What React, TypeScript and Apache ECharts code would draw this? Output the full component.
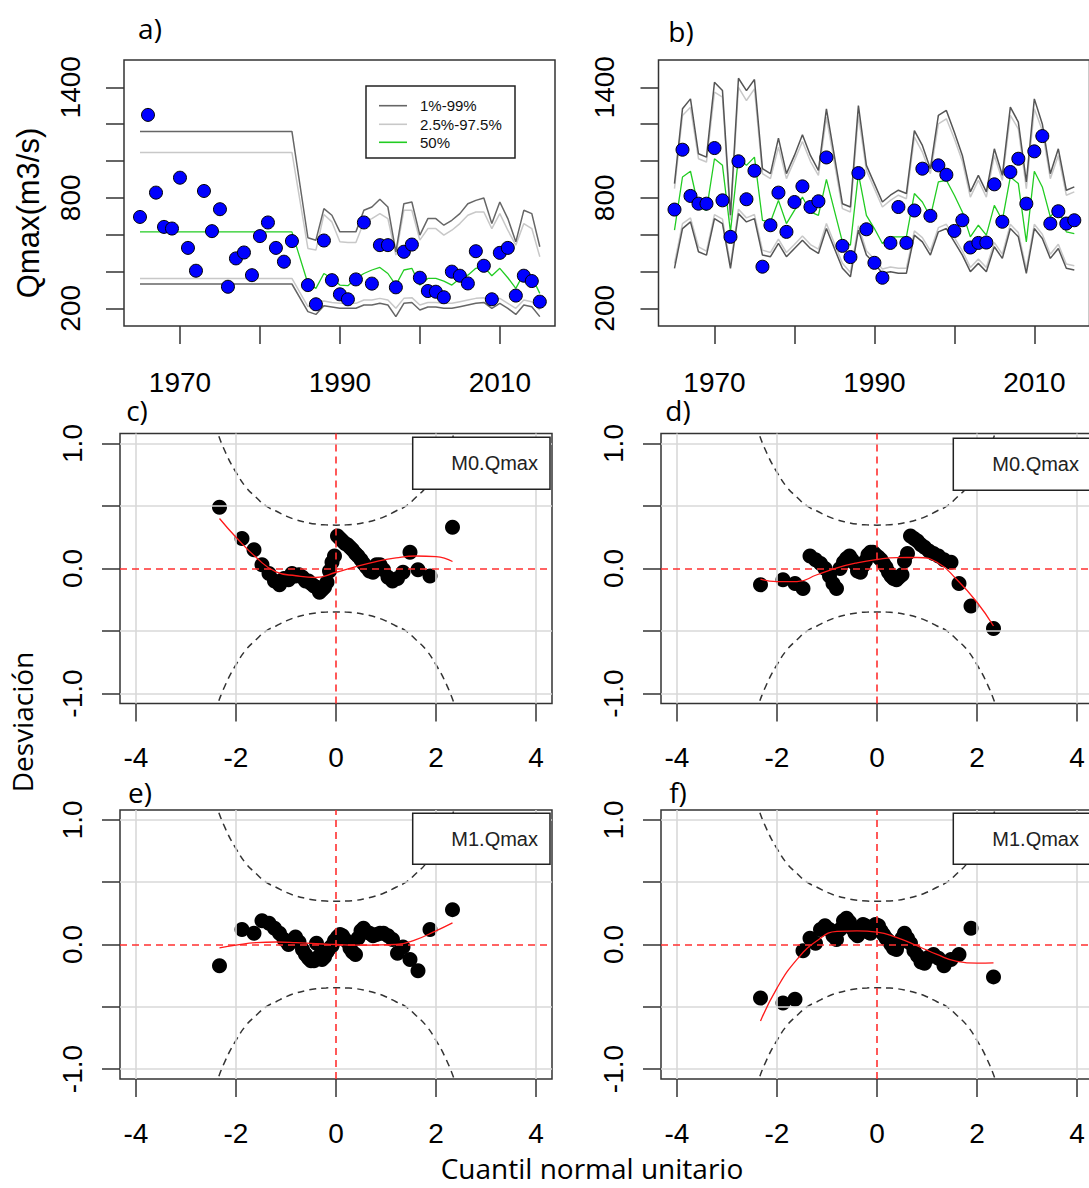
import React, { useEffect, useRef } from "react";
import * as echarts from "echarts";

// ---------- Data: panels a) and b) ----------
const years = [
  1965, 1966, 1967, 1968, 1969, 1970, 1971, 1972, 1973, 1974, 1975, 1976, 1977, 1978, 1979, 1980, 1981, 1982, 1983, 1984,
  1986, 1987, 1988, 1989, 1990, 1991, 1992, 1993, 1994, 1995, 1996, 1997, 1998, 1999, 2000, 2001, 2002, 2003, 2004, 2005,
  2006, 2007, 2008, 2009, 2010, 2011, 2012, 2013, 2014, 2015,
];
const yearTicks = [1970, 1980, 1990, 2000, 2010];
const yearLabels = [1970, 1990, 2010];
const qTicks = [200, 400, 600, 800, 1000, 1200, 1400];
const qLabels = [200, 800, 1400];

const qmaxA = [
  696, 1250, 828, 642, 633, 909, 528, 404, 837, 619, 738, 317, 471, 503, 380, 592, 666, 528, 453, 565,
  326, 222, 568, 353, 276, 249, 357, 666, 334, 543, 543, 314, 507, 546, 366, 294, 290, 260, 399, 377,
  335, 510, 431, 249, 501, 528, 269, 377, 348, 236,
];
const aUp99 = [
  1160, 1160, 1160, 1160, 1160, 1160, 1160, 1160, 1160, 1160, 1160, 1160, 1160, 1160, 1160, 1160, 1160, 1160, 1160, 1160,
  583, 570, 741, 705, 615, 615, 615, 732, 750, 792, 750, 507, 768, 777, 597, 687, 687, 651, 678, 714,
  768, 786, 799, 660, 777, 687, 561, 732, 714, 534,
];
const aUp975 = [
  1046, 1046, 1046, 1046, 1046, 1046, 1046, 1046, 1046, 1046, 1046, 1046, 1046, 1046, 1046, 1046, 1046, 1046, 1046, 1046,
  525, 516, 709, 669, 561, 557, 557, 669, 687, 714, 687, 489, 732, 732, 570, 633, 633, 597, 624, 660,
  705, 723, 723, 633, 714, 624, 543, 660, 633, 480,
];
const aMed = [
  615, 615, 615, 615, 615, 615, 615, 615, 615, 615, 615, 615, 615, 615, 615, 615, 615, 615, 615, 615,
  335, 308, 389, 362, 326, 323, 362, 389, 408, 422, 389, 326, 408, 417, 326, 362, 362, 348, 326, 362,
  380, 417, 426, 377, 417, 366, 308, 389, 371, 281,
];
const aLo975 = [
  362, 362, 362, 362, 362, 362, 362, 362, 362, 362, 362, 362, 362, 362, 362, 362, 362, 362, 362, 362,
  209, 236, 240, 232, 227, 227, 227, 245, 245, 254, 245, 200, 254, 258, 218, 232, 232, 227, 227, 236,
  245, 254, 258, 227, 254, 227, 200, 245, 236, 191,
];
const aLo99 = [
  332, 332, 332, 332, 332, 332, 332, 332, 332, 332, 332, 332, 332, 332, 332, 332, 332, 332, 332, 332,
  182, 167, 214, 207, 200, 200, 200, 218, 218, 227, 218, 155, 227, 232, 191, 207, 207, 200, 200, 209,
  218, 227, 232, 200, 227, 200, 167, 218, 209, 155,
];

const qmaxB = [
  736, 1061, 810, 768, 768, 1070, 786, 588, 998, 792, 947, 426, 651, 828, 615, 777, 862, 750, 781, 1019,
  539, 478, 934, 629, 447, 366, 555, 750, 555, 731, 958, 702, 976, 925, 620, 678, 530, 555, 557, 873,
  670, 940, 1012, 768, 1052, 1135, 660, 727, 660, 678,
];
const bUp99 = [
  877, 1283, 1337, 1039, 1021, 1427, 1382, 705, 1449, 1382, 1442, 958, 931, 1124, 931, 1030, 1142, 1030, 949, 1283,
  768, 750, 1301, 976, 877, 777, 814, 841, 823, 1165, 1084, 958, 1247, 1274, 1156, 1030, 832, 922, 832, 1066,
  922, 1292, 1211, 886, 1337, 1201, 931, 1066, 841, 859,
];
const bUp975 = [
  850, 1247, 1292, 1012, 994, 1373, 1346, 678, 1400, 1328, 1391, 931, 904, 1075, 904, 1003, 1106, 998, 922, 1238,
  741, 723, 1247, 949, 850, 750, 786, 814, 795, 1129, 1048, 931, 1201, 1229, 1120, 998, 804, 895, 804, 1030,
  895, 1247, 1174, 850, 1283, 1165, 904, 1030, 814, 832,
];
const bMed = [
  624, 913, 944, 750, 732, 1012, 976, 615, 1021, 976, 1021, 678, 669, 786, 660, 732, 804, 723, 705, 900,
  561, 543, 931, 705, 633, 552, 588, 588, 588, 823, 777, 696, 886, 895, 814, 723, 588, 651, 597, 759,
  678, 913, 877, 561, 944, 859, 696, 750, 615, 606,
];
const bLo975 = [
  444, 660, 691, 534, 510, 709, 684, 438, 738, 691, 709, 516, 503, 575, 503, 546, 593, 546, 521, 660,
  444, 395, 648, 512, 467, 413, 424, 417, 417, 620, 584, 512, 638, 656, 584, 512, 422, 467, 422, 557,
  494, 656, 611, 413, 656, 602, 494, 548, 440, 431,
];
const bLo99 = [
  417, 633, 669, 507, 489, 687, 660, 417, 714, 669, 687, 489, 480, 552, 480, 525, 570, 525, 498, 633,
  417, 371, 624, 489, 444, 390, 399, 390, 390, 597, 561, 489, 615, 633, 561, 489, 399, 444, 399, 534,
  471, 633, 588, 390, 633, 579, 471, 525, 417, 408,
];

// ---------- Data: worm plots c) - f) ----------
const zTicks = [-4, -2, 0, 2, 4];
const devTicks = [-1, -0.5, 0, 0.5, 1];
const devLabels = [-1, 0, 1];
const gridXs = [-4, -2, 2, 4];
const gridYs = [-1, -0.5, 0.5, 1];

const zQuant = [
  -2.33, -1.88, -1.64, -1.48, -1.34, -1.23, -1.13, -1.04, -0.95, -0.88, -0.81, -0.74, -0.67, -0.61, -0.55, -0.5, -0.44,
  -0.39, -0.33, -0.28, -0.23, -0.18, -0.13, -0.08, -0.03, 0.03, 0.08, 0.13, 0.18, 0.23, 0.28, 0.33, 0.39, 0.44, 0.5,
  0.55, 0.61, 0.67, 0.74, 0.81, 0.88, 0.95, 1.04, 1.13, 1.23, 1.34, 1.48, 1.64, 1.88, 2.33,
];
const devC = [
  0.49, 0.24, 0.15, 0.03, -0.04, -0.1, -0.13, -0.08, -0.09, -0.04, -0.06, -0.05, -0.07, -0.1, -0.1, -0.12, -0.14,
  -0.15, -0.19, -0.17, -0.15, -0.11, -0.02, 0.05, 0.1, 0.26, 0.24, 0.22, 0.2, 0.19, 0.17, 0.15, 0.12, 0.1, 0.07,
  0.04, 0.01, -0.02, -0.03, 0.03, 0.03, -0.01, -0.07, -0.1, -0.08, -0.03, 0.13, -0.01, -0.06, 0.33,
];
const devD = [
  -0.13, -0.09, -0.12, -0.16, 0.1, 0.07, 0.04, 0.0, -0.06, -0.12, -0.16, 0.0, 0.05, 0.08, 0.1, 0.07, 0.04,
  -0.02, -0.03, 0.02, 0.06, 0.11, 0.13, 0.13, 0.11, 0.09, 0.07, 0.04, 0.01, -0.03, -0.06, -0.08, -0.09, -0.07, -0.05,
  0.06, 0.12, 0.26, 0.24, 0.22, 0.19, 0.17, 0.14, 0.12, 0.1, 0.07, 0.05, -0.12, -0.3, -0.48,
];
const devE = [
  -0.17, 0.12, 0.09, 0.19, 0.17, 0.13, 0.09, 0.04, 0.0, 0.03, 0.06, 0.02, -0.04, -0.08, -0.11, -0.13, -0.13,
  0.01, -0.09, -0.12, -0.1, -0.06, -0.03, -0.01, 0.03, 0.06, 0.08, 0.07, 0.04, 0.02, -0.03, -0.06, -0.08, 0.05, 0.11,
  0.13, 0.1, 0.09, 0.07, 0.08, 0.09, 0.09, 0.07, 0.04, -0.07, -0.02, -0.12, -0.21, 0.12, 0.28,
];
const devF = [
  -0.43, -0.47, -0.44, -0.05, 0.05, 0.01, 0.12, 0.15, 0.12, 0.07, 0.04, 0.12, 0.19, 0.21, 0.18, 0.13, 0.09,
  0.07, 0.12, 0.16, 0.15, 0.1, 0.09, 0.13, 0.16, 0.15, 0.11, 0.08, 0.05, 0.03, 0.0, -0.03, -0.04, 0.01, 0.05,
  0.09, 0.05, 0.01, -0.05, -0.09, -0.14, -0.15, -0.1, -0.08, -0.11, -0.17, -0.12, -0.08, 0.13, -0.26,
];

const fitZ = [-2.33, -2.0, -1.6, -1.2, -0.8, -0.4, 0, 0.4, 0.8, 1.2, 1.6, 2.0, 2.33];
const fitC = [0.4, 0.25, 0.09, -0.027, -0.058, -0.072, -0.03, 0.015, 0.055, 0.085, 0.1, 0.095, 0.056];
const fitD = [-0.085, -0.105, -0.105, -0.05, 0.005, 0.045, 0.072, 0.087, 0.088, 0.05, -0.09, -0.27, -0.46];
const fitE = [-0.027, -0.005, 0.015, 0.02, 0.015, 0.006, 0.0, -0.005, -0.004, 0.0, 0.04, 0.11, 0.174];
const fitF = [-0.615, -0.35, -0.12, 0.03, 0.105, 0.11, 0.1, 0.055, -0.01, -0.08, -0.135, -0.15, -0.147];

const bandZ = [
  -2.5, -2.4, -2.2, -2.0, -1.8, -1.6, -1.4, -1.2, -1.0, -0.8, -0.6, -0.4, -0.2, 0, 0.2, 0.4, 0.6, 0.8, 1.0, 1.2, 1.4,
  1.6, 1.8, 2.0, 2.2, 2.4, 2.5,
];
const bandUp = [
  1.24, 1.12, 0.92, 0.77, 0.65, 0.57, 0.5, 0.46, 0.42, 0.39, 0.37, 0.355, 0.349, 0.347, 0.349, 0.355, 0.37, 0.39,
  0.42, 0.46, 0.5, 0.57, 0.65, 0.77, 0.92, 1.12, 1.24,
];
const bandLo = [
  -1.24, -1.12, -0.92, -0.77, -0.65, -0.57, -0.5, -0.46, -0.42, -0.39, -0.37, -0.355, -0.349, -0.347, -0.349, -0.355,
  -0.37, -0.39, -0.42, -0.46, -0.5, -0.57, -0.65, -0.77, -0.92, -1.12, -1.24,
];

// ---------- Helpers ----------
const NUM_FONT = "Liberation Sans, Arial, sans-serif";
const TITLE_FONT = "Open Sans, sans-serif";

const zip = (xs: number[], ys: number[]) => xs.map((x, i) => [x, ys[i]]);

const gridBoxes = [
  { left: 124, top: 60, width: 431, height: 266 },
  { left: 658.5, top: 60, width: 431, height: 266 },
  { left: 120, top: 433.5, width: 432, height: 270 },
  { left: 661, top: 433.5, width: 432, height: 270 },
  { left: 120, top: 810, width: 432, height: 269 },
  { left: 661, top: 810, width: 432, height: 269 },
];

const tickStyle = { color: "#333", width: 1.5 };
const plain = (v: number) => String(v);

function yearXAxis(gi: number) {
  return {
    gridIndex: gi,
    type: "value",
    min: 1963,
    max: 2016.9,
    axisLine: { show: false, onZero: false },
    axisTick: { show: true, length: 18, customValues: yearTicks, lineStyle: tickStyle },
    axisLabel: {
      customValues: yearLabels,
      fontSize: 28,
      margin: 42,
      color: "#000",
      fontFamily: NUM_FONT,
      formatter: plain,
    },
    splitLine: { show: false },
  };
}
function qYAxis(gi: number) {
  return {
    gridIndex: gi,
    type: "value",
    min: 104,
    max: 1548,
    axisLine: { show: false, onZero: false },
    axisTick: { show: true, length: 18, customValues: qTicks, lineStyle: tickStyle },
    axisLabel: {
      customValues: qLabels,
      rotate: 90,
      fontSize: 28,
      margin: 40,
      color: "#000",
      fontFamily: NUM_FONT,
      formatter: plain,
    },
    splitLine: { show: false },
  };
}
function zXAxis(gi: number) {
  return {
    gridIndex: gi,
    type: "value",
    min: -4.32,
    max: 4.32,
    axisLine: { show: false, onZero: false },
    axisTick: { show: true, length: 18, customValues: zTicks, lineStyle: tickStyle },
    axisLabel: {
      customValues: zTicks,
      fontSize: 28,
      margin: 40,
      color: "#000",
      fontFamily: NUM_FONT,
      formatter: plain,
    },
    splitLine: { show: false },
  };
}
function devYAxis(gi: number) {
  return {
    gridIndex: gi,
    type: "value",
    min: -1.08,
    max: 1.08,
    axisLine: { show: false, onZero: false },
    axisTick: { show: true, length: 18, customValues: devTicks, lineStyle: tickStyle },
    axisLabel: {
      customValues: devLabels,
      rotate: 90,
      fontSize: 28,
      margin: 34,
      color: "#000",
      fontFamily: NUM_FONT,
      formatter: (v: number) => v.toFixed(1),
    },
    splitLine: { show: false },
  };
}

function bandLine(gi: number, data: number[], color: string, width: number, z = 2) {
  return {
    type: "line",
    xAxisIndex: gi,
    yAxisIndex: gi,
    data: zip(years, data),
    symbol: "none",
    lineStyle: { color, width },
    silent: true,
    z,
  };
}
function qPoints(gi: number, data: number[]) {
  return {
    type: "scatter",
    xAxisIndex: gi,
    yAxisIndex: gi,
    data: zip(years, data),
    symbol: "circle",
    symbolSize: 13,
    itemStyle: { color: "#0000ff", borderColor: "#000", borderWidth: 1, opacity: 1 },
    z: 5,
  };
}

function wormSeries(gi: number, dev: number[], fit: number[]) {
  return [
    {
      type: "line",
      xAxisIndex: gi,
      yAxisIndex: gi,
      data: zip(bandZ, bandUp),
      symbol: "none",
      smooth: true,
      silent: true,
      lineStyle: { color: "#333", width: 1.5, type: [7, 5] },
      z: 2,
      markLine: {
        silent: true,
        symbol: "none",
        label: { show: false },
        animation: false,
        lineStyle: { color: "#d9d9d9", type: "solid", width: 1.6 },
        data: [...gridXs.map((v) => ({ xAxis: v })), ...gridYs.map((v) => ({ yAxis: v }))],
      },
    },
    {
      type: "line",
      xAxisIndex: gi,
      yAxisIndex: gi,
      data: zip(bandZ, bandLo),
      symbol: "none",
      smooth: true,
      silent: true,
      lineStyle: { color: "#333", width: 1.5, type: [7, 5] },
      z: 2,
    },
    {
      type: "scatter",
      xAxisIndex: gi,
      yAxisIndex: gi,
      data: zip(zQuant, dev),
      symbol: "circle",
      symbolSize: 15,
      itemStyle: { color: "#000", opacity: 1 },
      z: 4,
    },
    {
      type: "line",
      xAxisIndex: gi,
      yAxisIndex: gi,
      data: zip(fitZ, fit),
      symbol: "none",
      smooth: true,
      silent: true,
      lineStyle: { color: "#ff1a1a", width: 1.3 },
      z: 5,
      markLine: {
        silent: true,
        symbol: "none",
        label: { show: false },
        animation: false,
        lineStyle: { color: "#ff3030", type: [7, 5], width: 1.6 },
        data: [{ xAxis: 0 }, { yAxis: 0 }],
      },
    },
  ];
}

function txt(text: string, x: number, y: number, font: string, extra: any = {}) {
  return {
    type: "text",
    x,
    y,
    z: 100,
    silent: true,
    ...extra,
    style: {
      text,
      font,
      fill: "#000",
      textAlign: "center",
      textVerticalAlign: "middle",
    },
  };
}

function modelBox(x: number, y: number, w: number, h: number, label: string, textRight: number) {
  return [
    {
      type: "rect",
      z: 100,
      silent: true,
      shape: { x, y, width: w, height: h },
      style: { fill: "#fff", stroke: "#222", lineWidth: 1.5 },
    },
    {
      type: "text",
      z: 101,
      silent: true,
      x: textRight,
      y: y + h / 2,
      style: {
        text: label,
        font: `20px ${NUM_FONT}`,
        fill: "#222",
        textAlign: "right",
        textVerticalAlign: "middle",
      },
    },
  ];
}

function legendA() {
  const rows = [
    { label: "1%-99%", color: "#666", y: 105.7 },
    { label: "2.5%-97.5%", color: "#c8c8c8", y: 124.3 },
    { label: "50%", color: "#22cc22", y: 142.3 },
  ];
  const els: any[] = [
    {
      type: "rect",
      z: 100,
      silent: true,
      shape: { x: 366, y: 86, width: 149, height: 72 },
      style: { fill: "#fff", stroke: "#222", lineWidth: 1.5 },
    },
  ];
  rows.forEach((r) => {
    els.push({
      type: "line",
      z: 101,
      silent: true,
      shape: { x1: 379, y1: r.y, x2: 407, y2: r.y },
      style: { stroke: r.color, lineWidth: 1.6 },
    });
    els.push({
      type: "text",
      z: 101,
      silent: true,
      x: 420,
      y: r.y,
      style: { text: r.label, font: `15px ${NUM_FONT}`, fill: "#111", textAlign: "left", textVerticalAlign: "middle" },
    });
  });
  return els;
}

function buildOption() {
  const grid = gridBoxes.map((g) => ({
    ...g,
    show: true,
    borderColor: "#333",
    borderWidth: 1.5,
    backgroundColor: "transparent",
    containLabel: false,
    outerBoundsMode: "none",
  }));
  const xAxis = [yearXAxis(0), yearXAxis(1), zXAxis(2), zXAxis(3), zXAxis(4), zXAxis(5)];
  const yAxis = [qYAxis(0), qYAxis(1), devYAxis(2), devYAxis(3), devYAxis(4), devYAxis(5)];

  const series: any[] = [
    bandLine(0, aUp975, "#c8c8c8", 1.5),
    bandLine(0, aLo975, "#c8c8c8", 1.5),
    bandLine(0, aUp99, "#666", 1.5),
    bandLine(0, aLo99, "#666", 1.5),
    bandLine(0, aMed, "#22cc22", 1.3, 3),
    qPoints(0, qmaxA),
    bandLine(1, bUp975, "#c8c8c8", 1.5),
    bandLine(1, bLo975, "#c8c8c8", 1.5),
    bandLine(1, bUp99, "#555", 1.5),
    bandLine(1, bLo99, "#555", 1.5),
    bandLine(1, bMed, "#22cc22", 1.3, 3),
    qPoints(1, qmaxB),
    ...wormSeries(2, devC, fitC),
    ...wormSeries(3, devD, fitD),
    ...wormSeries(4, devE, fitE),
    ...wormSeries(5, devF, fitF),
  ];

  const graphic = [
    ...legendA(),
    ...modelBox(412.7, 437.3, 137.3, 52, "M0.Qmax", 538),
    ...modelBox(953.3, 438.3, 145, 52, "M0.Qmax", 1079),
    ...modelBox(412.7, 813.3, 137.3, 51, "M1.Qmax", 538),
    ...modelBox(953.3, 813.3, 145, 51, "M1.Qmax", 1079),
    txt("a)", 150, 28, `28px ${TITLE_FONT}`),
    txt("b)", 681, 31, `28px ${TITLE_FONT}`),
    txt("c)", 137, 410, `28px ${TITLE_FONT}`),
    txt("d)", 678, 410, `28px ${TITLE_FONT}`),
    txt("e)", 140, 792, `28px ${TITLE_FONT}`),
    txt("f)", 678, 792, `28px ${TITLE_FONT}`),
    txt("Qmax(m3/s)", 28, 213, `31px ${NUM_FONT}`, { rotation: Math.PI / 2 }),
    txt("Desviación", 22, 722, `28px ${TITLE_FONT}`, { rotation: Math.PI / 2 }),
    txt("Cuantil normal unitario", 592, 1168, `28px ${TITLE_FONT}`),
  ];

  return {
    animation: false,
    backgroundColor: "#fff",
    grid,
    xAxis,
    yAxis,
    series,
    graphic,
  };
}

export default function App() {
  const ref = useRef<HTMLDivElement>(null);
  useEffect(() => {
    if (!ref.current) return;
    const chart = echarts.init(ref.current, null, { renderer: "svg" });
    chart.setOption(buildOption() as any);
    return () => chart.dispose();
  }, []);
  return (
    <div
      ref={ref}
      style={{ position: "absolute", left: 0, top: 0, width: 1089, height: 1188, background: "#fff" }}
    />
  );
}
